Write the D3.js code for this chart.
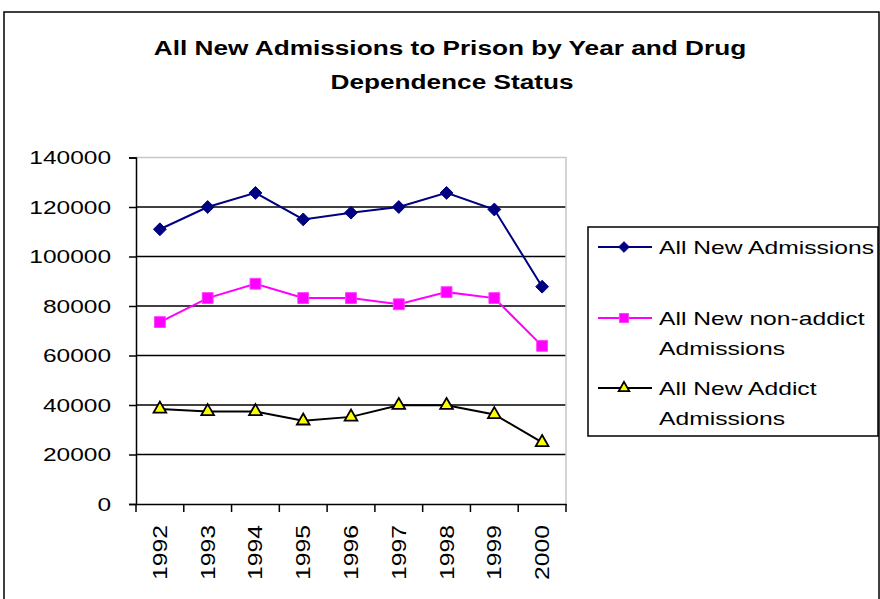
<!DOCTYPE html>
<meta charset="utf-8">
<script src="https://d3js.org/d3.v7.min.js"></script>
<style>
  body { margin: 0; background: #fff; }
  text { font-family: Arial, "Liberation Sans", sans-serif; fill: #000; }
</style>
<div id="chart"></div>
<script>

// data
var years = ["1992", "1993", "1994", "1995", "1996", "1997", "1998", "1999", "2000"];
var allNew = [111000, 120000, 125700, 115000, 117700, 120000, 125700, 119000, 87800];
var nonAddict = [73500, 83200, 89000, 83200, 83200, 80700, 85600, 83200, 63900];
var addict = [38400, 37400, 37400, 33600, 35200, 39900, 39900, 36200, 24900];
var yTicks = [0, 20000, 40000, 60000, 80000, 100000, 120000, 140000];
var seriesNames = ["All New Admissions", "All New non-addict|Admissions", "All New Addict|Admissions"];

var W = 880, H = 599;
var plot = {left: 136, right: 566, top: 157.5, bottom: 504};

var svg = d3.select("#chart").append("svg")
  .attr("width", W).attr("height", H);

// outer chart border
svg.append("rect")
  .attr("x", 4).attr("y", 12)
  .attr("width", 875).attr("height", 600)
  .attr("fill", "#fff").attr("stroke", "#000").attr("stroke-width", 1.5);

// title
svg.selectAll(".title")
  .data(["All New Admissions to Prison by Year and Drug", "Dependence Status"])
  .enter().append("text")
    .attr("transform", function(d, i) { return "translate(" + (i ? 452 : 450) + "," + (i ? 89 : 55) + ") scale(1.31,1)"; })
    .attr("text-anchor", "middle")
    .style("font-size", "20px")
    .style("font-weight", "bold")
    .text(function(d) { return d; });

var x = d3.scaleBand().domain(years).range([plot.left, plot.right]);
var y = d3.scaleLinear().domain([0, 140000]).range([plot.bottom, plot.top]);

// gridlines
svg.selectAll(".grid")
  .data(yTicks.slice(1, -1))
  .enter().append("line")
    .attr("x1", plot.left).attr("x2", plot.right)
    .attr("y1", function(d) { return y(d); })
    .attr("y2", function(d) { return y(d); })
    .attr("stroke", "#000").attr("stroke-width", 1.5);

// plot area border (grey, top and right)
svg.append("path")
  .attr("d", "M" + plot.left + "," + y(140000) + "H" + plot.right + "V" + plot.bottom)
  .attr("fill", "none").attr("stroke", "#c8c8c8").attr("stroke-width", 1.5);

// y axis
var yAxis = svg.append("g")
  .attr("transform", "translate(" + plot.left + ",0)")
  .call(d3.axisLeft(y).tickValues(yTicks).tickSize(7).tickFormat(d3.format("d")));
yAxis.select(".domain").attr("stroke-width", 1.5);
yAxis.selectAll(".tick line").attr("stroke-width", 1.5);
yAxis.selectAll(".tick text")
  .attr("x", null).attr("dy", null)
  .attr("transform", "translate(-25,6) scale(1.4,1)")
  .style("font-size", "17.5px")
  .style("font-family", "Arial, 'Liberation Sans', sans-serif");

// x axis
var xAxis = svg.append("g")
  .attr("transform", "translate(0," + plot.bottom + ")")
  .call(d3.axisBottom(x).tickSize(8).tickSizeOuter(0));
xAxis.select(".domain").attr("stroke-width", 1.5);
// ticks between categories
xAxis.selectAll(".tick line").remove();
xAxis.selectAll(".sep")
  .data(d3.range(years.length + 1))
  .enter().append("line")
    .attr("x1", function(i) { return plot.left + i * x.step(); })
    .attr("x2", function(i) { return plot.left + i * x.step(); })
    .attr("y1", 0).attr("y2", 8)
    .attr("stroke", "#000").attr("stroke-width", 1.5);
xAxis.selectAll(".tick text")
  .attr("y", null).attr("dy", null)
  .attr("text-anchor", "end")
  .attr("transform", "translate(7,21) rotate(-90) scale(1.27,1)")
  .style("font-size", "19.5px")
  .style("font-family", "Arial, 'Liberation Sans', sans-serif");

var cx = function(d, i) { return x(years[i]) + x.bandwidth() / 2; };

var series = [
  {values: allNew, color: "#000080", sym: d3.symbolDiamond2, fill: "#000080", stroke: "#000080", size: 105},
  {values: nonAddict, color: "#ff00ff", sym: d3.symbolSquare2, fill: "#ff00ff", stroke: "#ff40ff", size: 150},
  {values: addict, color: "#000000", sym: d3.symbolTriangle2, fill: "#ffff00", stroke: "#000", size: 115}
];

var line = d3.line().x(cx).y(function(d) { return y(d); });

series.forEach(function(s) {
  svg.append("path")
    .datum(s.values)
    .attr("d", line)
    .attr("fill", "none")
    .attr("stroke", s.color)
    .attr("stroke-width", 2);

  svg.selectAll(null)
    .data(s.values)
    .enter().append("path")
      .attr("d", d3.symbol().type(s.sym).size(s.size))
      .attr("transform", function(d, i) { return "translate(" + cx(d, i) + "," + y(d) + ")"; })
      .attr("fill", s.fill)
      .attr("stroke", s.stroke)
      .attr("stroke-width", s.sym === d3.symbolTriangle2 ? 1.8 : 1);
});

// legend
var legend = svg.append("g");
legend.append("rect")
  .attr("x", 588).attr("y", 227)
  .attr("width", 290).attr("height", 209)
  .attr("fill", "#fff").attr("stroke", "#000").attr("stroke-width", 1.5);

var legY = [247, 318, 388];
series.forEach(function(s, i) {
  var g = legend.append("g").attr("transform", "translate(0," + legY[i] + ")");
  g.append("line")
    .attr("x1", 598).attr("x2", 652)
    .attr("stroke", s.color).attr("stroke-width", 2);
  g.append("path")
    .attr("d", d3.symbol().type(s.sym).size(s.size * 0.7))
    .attr("transform", "translate(624,0)")
    .attr("fill", s.fill).attr("stroke", s.stroke)
    .attr("stroke-width", s.sym === d3.symbolTriangle2 ? 1.8 : 1);
  seriesNames[i].split("|").forEach(function(t, j) {
    g.append("text")
      .attr("transform", "translate(659," + (7 + j * 30) + ") scale(1.37,1)")
      .style("font-size", "18px")
      .text(t);
  });
});

</script>
